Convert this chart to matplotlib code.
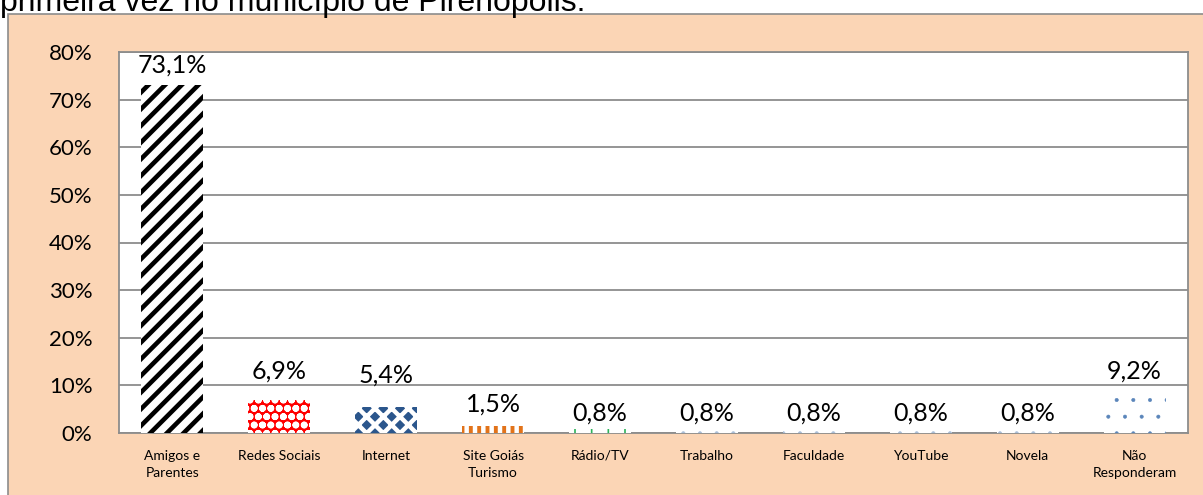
import matplotlib.pyplot as plt
from matplotlib.patches import Rectangle
from matplotlib.ticker import FuncFormatter

categories = ["Amigos e\nParentes", "Redes Sociais", "Internet", "Site Goiás\nTurismo",
              "Rádio/TV", "Trabalho", "Faculdade", "YouTube", "Novela", "Não\nResponderam"]
values = [73.1, 6.9, 5.4, 1.5, 0.8, 0.8, 0.8, 0.8, 0.8, 9.2]
value_labels = ["73,1%", "6,9%", "5,4%", "1,5%", "0,8%", "0,8%", "0,8%", "0,8%", "0,8%", "9,2%"]

# label baseline gap above each bar (labels were nudged by hand in the original)
label_gap = [2.5, 4.5, 5.2, 3.1, 1.9, 1.9, 1.9, 1.9, 1.9, 2.2]

# (face, hatch colour, hatch, hatch linewidth)
styles = [
    ("white", "black", "//", 3.3),
    ("#FF0000", "white", "oo", 2.5),
    ("#2B568C", "white", "xx", 3.2),
    ("white", "#E2731A", "||", 2.8),
    ("white", "#2DB35A", "+", 1.2),
    ("white", "#A9BED8", ".", 0.5),
    ("white", "#A9BED8", ".", 0.5),
    ("white", "#A9BED8", ".", 0.5),
    ("white", "#A9BED8", ".", 0.5),
    ("white", "#5A85BA", ".", 0.4),
]

peach = "#FBD5B5"
W, H = 1203, 495

fig = plt.figure(figsize=(W / 100, H / 100), dpi=100)
fig.patch.set_facecolor("white")

# peach chart area box
box = Rectangle((8 / W, -0.05), 1.1, 1 - 14 / H + 0.05, transform=fig.transFigure,
                facecolor=peach, edgecolor="#8C8C8C", linewidth=1.2, zorder=-5)
fig.patches.append(box)

# cut-off caption line above the chart
fig.text(0.0, 1 - 11 / H, "primeira vez no município de Pirenópolis.", fontsize=23,
         family="Liberation Sans", ha="left", va="baseline", color="black")

ax = fig.add_axes([119 / W, 1 - 433 / H, (1188 - 119) / W, (433 - 52) / H])
ax.set_facecolor("white")

x = list(range(len(categories)))
for i, (v, (fc, hc, hatch, hlw)) in enumerate(zip(values, styles)):
    plt.rcParams["hatch.linewidth"] = hlw
    bars = ax.bar(x[i], v, width=0.58, color=fc, edgecolor=hc, hatch=hatch, linewidth=0, zorder=3)
    for b in bars:
        if hasattr(b, "set_hatch_linewidth"):
            b.set_hatch_linewidth(hlw)
    ax.text(x[i], v + label_gap[i], value_labels[i], ha="center", va="baseline", fontsize=18,
            family="Lato", zorder=4)

ax.set_ylim(0, 80)
ax.set_xlim(-0.5, len(categories) - 0.5)
ax.set_yticks(range(0, 81, 10))
ax.yaxis.set_major_formatter(FuncFormatter(lambda v, p: f"{int(v)}%"))
ax.yaxis.grid(True, color="#8C8C8C", linewidth=1.3, zorder=0)
ax.set_axisbelow(True)
ax.set_xticks(x)
ax.set_xticklabels(categories, fontsize=10, family="Lato", linespacing=1.5)
ax.tick_params(axis="both", length=0)
ax.tick_params(axis="x", pad=12)
ax.tick_params(axis="y", labelsize=16, pad=19)
for lab in ax.get_yticklabels():
    lab.set_family("Lato")
for s in ax.spines.values():
    s.set_color("#8C8C8C")
    s.set_linewidth(1.3)

fig.savefig("out.png", dpi=100)
